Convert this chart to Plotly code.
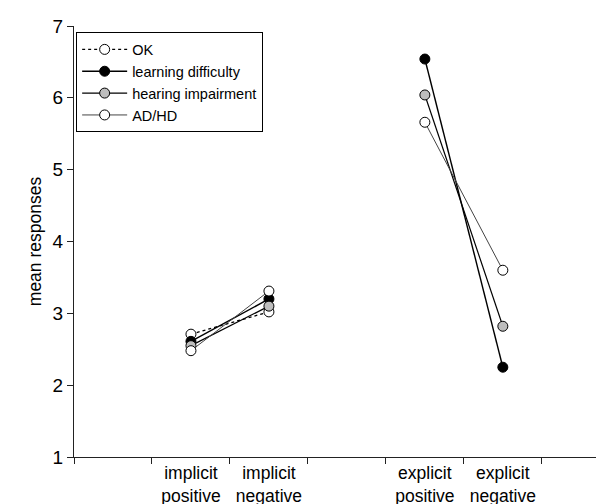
import plotly.graph_objects as go

categories = ["implicit positive", "implicit negative", "explicit positive", "explicit negative"]
tick_labels = ["implicit<br>positive", "implicit<br>negative", "explicit<br>positive", "explicit<br>negative"]

ok_vals = [2.71, 3.02, None, None]
learning_vals = [2.61, 3.20, 6.54, 2.25]
hearing_vals = [2.55, 3.10, 6.04, 2.82]
adhd_vals = [2.48, 3.31, 5.66, 3.60]

# layout: category slots on a numeric axis (gap between the two groups)
slots = [1, 2, 4, 5]
xpos = [s + 0.5 for s in slots]
boundaries = list(range(0, 8))


def with_break(seq):
    # break the line between the implicit and the explicit pair
    return list(seq[:2]) + [None] + list(seq[2:])


fig = go.Figure()


def add(name, vals, fill, line_color, dash, lw):
    fig.add_trace(go.Scatter(
        x=with_break(xpos), y=with_break(vals), name=name, mode="lines+markers",
        line=dict(color=line_color, width=lw, dash=dash),
        marker=dict(size=10, color=fill, line=dict(color="black", width=1)),
        connectgaps=False,
    ))


add("OK", ok_vals, "white", "black", "dot", 1.3)
add("learning difficulty", learning_vals, "black", "black", "solid", 1.4)
add("hearing impairment", hearing_vals, "#bdbdbd", "black", "solid", 1.2)
add("AD/HD", adhd_vals, "white", "#444444", "solid", 1.0)

font_family = "Liberation Sans, Arial, Helvetica, sans-serif"

fig.update_layout(
    width=604, height=504,
    margin=dict(l=66, r=0, t=18, b=55),
    paper_bgcolor="white", plot_bgcolor="white",
    font=dict(family=font_family, size=18, color="black"),
    showlegend=True,
    legend=dict(
        x=0.004, y=0.985, xanchor="left", yanchor="top",
        bordercolor="black", borderwidth=1, bgcolor="white",
        font=dict(size=14.5, family=font_family),
        itemwidth=45, tracegroupgap=0,
    ),
    xaxis=dict(
        range=[0, 6.9], showgrid=False, zeroline=False,
        showline=True, linecolor="#222", linewidth=1.3,
        tickvals=xpos, ticktext=tick_labels, ticks="", ticklen=0,
        tickfont=dict(size=17.5),
        minor=dict(tickvals=boundaries, ticks="outside", ticklen=6,
                   tickcolor="#222", tickwidth=1.2),
    ),
    yaxis=dict(
        range=[1, 7], showgrid=False, zeroline=False,
        showline=True, linecolor="#222", linewidth=1.3,
        tickvals=[1, 2, 3, 4, 5, 6, 7], ticks="outside", ticklen=6,
        tickcolor="#222", tickwidth=1.2, tickfont=dict(size=19),
        title=dict(text="mean responses", font=dict(size=17.5), standoff=6),
    ),
)

fig.write_html("out.html")
